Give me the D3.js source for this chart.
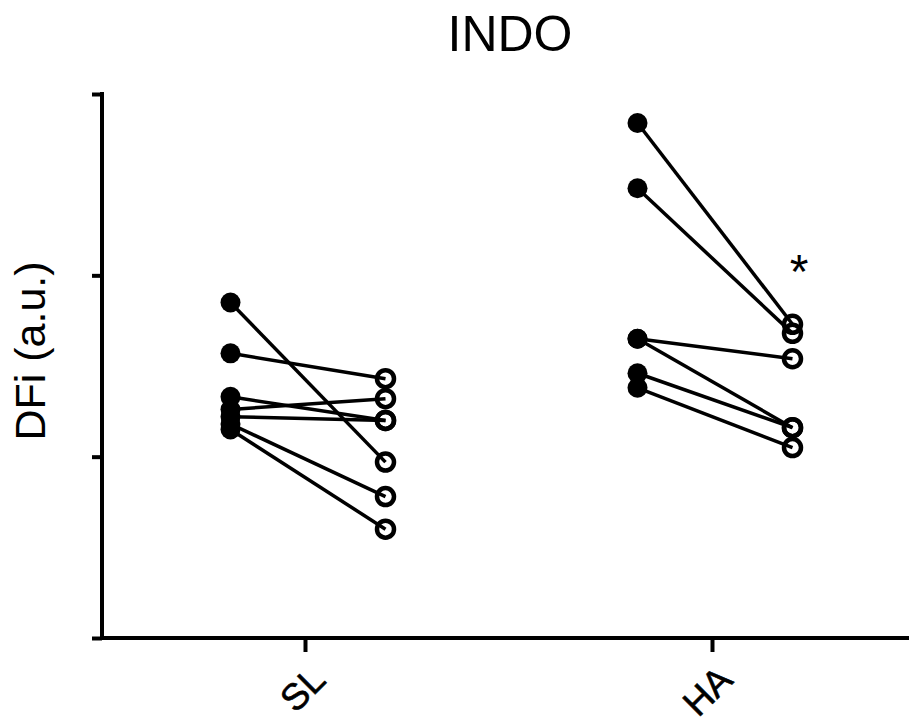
<!DOCTYPE html>
<html>
<head>
<meta charset="utf-8">
<script src="https://cdn.jsdelivr.net/npm/d3@7"></script>
<style>
  html, body { margin: 0; padding: 0; background: #fff; }
  svg { display: block; font-family: "Liberation Sans", Arial, Helvetica, sans-serif; }
</style>
</head>
<body>
<svg id="chart"></svg>
<script>
// groups on the x axis
const groups = ['SL', 'HA'];
// paired values per subject (a.u.), before -> after
const slBefore = [1.85, 1.57, 1.33, 1.26, 1.22, 1.18, 1.15];
const slAfter = [0.97, 1.43, 1.20, 1.32, 1.20, 0.78, 0.60];
const haBefore = [2.84, 2.48, 1.65, 1.65, 1.46, 1.38];
const haAfter = [1.73, 1.68, 1.54, 1.16, 1.16, 1.05];
const yTicks = [0, 1, 2, 3];
const title = 'INDO';
const yLabel = 'DFi (a.u.)';
const sigMark = { group: 'HA', value: 2.05, text: '*' };

const width = 909;
const height = 724;
const margin = { top: 94, left: 102, bottom: 86 };

const svg = d3.select('#chart').attr('width', width).attr('height', height);

const x = d3
  .scaleBand()
  .domain(groups)
  .range([margin.left, 916])
  .padding(0);

const y = d3
  .scaleLinear()
  .domain([0, 3])
  .range([height - margin.bottom, margin.top]);

const offset = 77.5;
const shift = 2.5;
const series = [
  { group: 'SL', before: slBefore, after: slAfter },
  { group: 'HA', before: haBefore, after: haAfter },
];

// axes
const yAxis = svg
  .append('g')
  .attr('transform', `translate(${margin.left},0)`)
  .call(d3.axisLeft(y).tickValues(yTicks).tickSize(10).tickSizeOuter(0).tickFormat(''));

const xAxis = svg
  .append('g')
  .attr('transform', `translate(0,${y(0)})`)
  .call(d3.axisBottom(x).tickSize(14).tickSizeOuter(0));

[yAxis, xAxis].forEach((ax) => {
  ax.select('.domain').attr('stroke', '#000').attr('stroke-width', 4);
  ax.selectAll('.tick line').attr('stroke', '#000').attr('stroke-width', 4);
});
yAxis.select('.domain').attr('d', `M0,${y(3) - 2}V${y(0)}`);
xAxis.select('.domain').attr('d', `M${margin.left},0H${width}`);

xAxis
  .selectAll('.tick text')
  .attr('font-size', 37)
  .attr('fill', '#000')
  .attr('stroke', '#000')
  .attr('stroke-width', 0.6)
  .attr('text-anchor', 'end')
  .attr('dy', 0)
  .attr('transform', 'translate(10,32) rotate(-45)');

// paired lines
const plot = svg.append('g');
series.forEach((s) => {
  const cx = x(s.group) + x.bandwidth() / 2 + shift;
  const pairs = s.before.map((b, i) => ({ b, a: s.after[i] }));

  plot
    .append('g')
    .selectAll('line')
    .data(pairs)
    .enter()
    .append('line')
    .attr('x1', cx - offset)
    .attr('x2', cx + offset)
    .attr('y1', (d) => y(d.b))
    .attr('y2', (d) => y(d.a))
    .attr('stroke', '#000')
    .attr('stroke-width', 3.5);

  plot
    .append('g')
    .selectAll('circle')
    .data(s.before)
    .enter()
    .append('circle')
    .attr('cx', cx - offset)
    .attr('cy', (d) => y(d))
    .attr('r', 10)
    .attr('fill', '#000');

  plot
    .append('g')
    .selectAll('circle')
    .data(s.after)
    .enter()
    .append('circle')
    .attr('cx', cx + offset)
    .attr('cy', (d) => y(d))
    .attr('r', 8.5)
    .attr('fill', 'none')
    .attr('stroke', '#000')
    .attr('stroke-width', 4.5);
});

// significance mark
svg
  .append('text')
  .attr('x', x(sigMark.group) + x.bandwidth() / 2 + offset + 9)
  .attr('y', y(sigMark.value) + 22)
  .attr('text-anchor', 'middle')
  .attr('font-size', 48)
  .text(sigMark.text);

// title
svg
  .append('text')
  .attr('x', 510)
  .attr('y', 51)
  .attr('text-anchor', 'middle')
  .attr('font-size', 50)
  .text(title);

// y label
svg
  .append('text')
  .attr('transform', `translate(45,${(y(0) + y(3)) / 2 - 15}) rotate(-90)`)
  .attr('text-anchor', 'middle')
  .attr('font-size', 43)
  .text(yLabel);
</script>
</body>
</html>
